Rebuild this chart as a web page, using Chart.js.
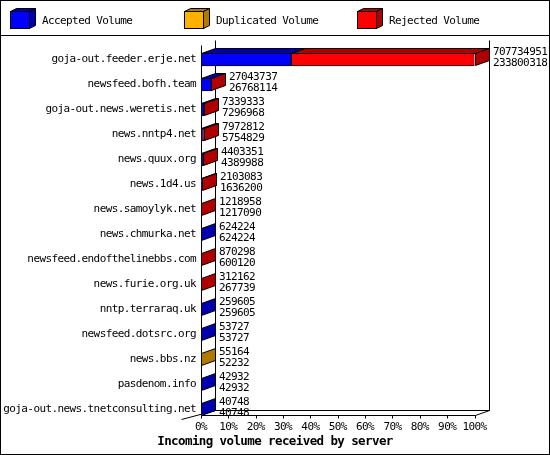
<!DOCTYPE html>
<html>
<head>
<meta charset="utf-8">
<script src="https://cdn.jsdelivr.net/npm/chart.js@4.4.1/dist/chart.umd.min.js"></script>
<style>
  html, body { margin: 0; padding: 0; background: #fff; }
  canvas { display: block; }
</style>
</head>
<body>
<canvas id="chart" width="550" height="455"></canvas>
<script>
// Values (bytes)
const hosts = [
  'goja-out.feeder.erje.net', 'newsfeed.bofh.team', 'goja-out.news.weretis.net',
  'news.nntp4.net', 'news.quux.org', 'news.1d4.us', 'news.samoylyk.net',
  'news.chmurka.net', 'newsfeed.endofthelinebbs.com', 'news.furie.org.uk',
  'nntp.terraraq.uk', 'newsfeed.dotsrc.org', 'news.bbs.nz', 'pasdenom.info',
  'goja-out.news.tnetconsulting.net'
];
const offered = [707734951, 27043737, 7339333, 7972812, 4403351, 2103083, 1218958,
  624224, 870298, 312162, 259605, 53727, 55164, 42932, 40748];
const accepted = [233800318, 26768114, 7296968, 5754829, 4389988, 1636200, 1217090,
  624224, 600120, 267739, 259605, 53727, 52232, 42932, 40748];
const duplicated = [0, 0, 0, 0, 0, 0, 0, 0, 0, 0, 0, 0, 2932, 0, 0];
const rejected = [473934633, 275623, 42365, 2217983, 13363, 466883, 1868,
  0, 270178, 44423, 0, 0, 0, 0, 0];

const seriesNames = ['Accepted Volume', 'Duplicated Volume', 'Rejected Volume'];
const frontColors = ['#0000ff', '#ffb000', '#ff0000'];
const sideColors = ['#0000b0', '#b07900', '#b00000'];
const chartTitle = 'Incoming volume received by server';

const MONO = '"DejaVu Sans Mono", monospace';
const FONT_SIZE = 11;
const SQUEEZE = '-0.6px';       // 11px mono squeezed to a 6px cell like the gd font
const DX = 14, DY = 5;          // depth of the 3d bars
const maxTotal = Math.max(...offered);
const px = v => Math.round(v) + 0.5;

const poly = (ctx, pts, fill) => {
  ctx.beginPath();
  pts.forEach(([x, y], i) => i ? ctx.lineTo(x, y) : ctx.moveTo(x, y));
  ctx.closePath();
  if (fill) { ctx.fillStyle = fill; ctx.fill(); }
  ctx.stroke();
};

const line = (ctx, x1, y1, x2, y2) => {
  ctx.beginPath(); ctx.moveTo(x1, y1); ctx.lineTo(x2, y2); ctx.stroke();
};

const threeD = {
  id: 'threeD',
  beforeDraw(chart) {
    const { ctx, width, height } = chart;
    ctx.fillStyle = '#fff';
    ctx.fillRect(0, 0, width, height);
    ctx.letterSpacing = SQUEEZE;
  },
  // back walls, floor and ticks
  beforeDatasetsDraw(chart) {
    const { ctx, chartArea, scales: { x } } = chart;
    const meta = chart.getDatasetMeta(0);
    const x0 = px(x.getPixelForValue(0)), x1 = px(x.getPixelForValue(maxTotal));
    const last = meta.data[hosts.length - 1];
    const yF = px(last.y + last.height / 2 - 1);
    const yT = px(chartArea.top - 2);
    ctx.save();
    ctx.strokeStyle = '#000';
    ctx.lineWidth = 1;
    line(ctx, x0, yT, x0, yF);
    line(ctx, x0 + DX, yT - DY, x0 + DX, yF - DY);
    line(ctx, x1 + DX, yT - DY, x1 + DX, yF - DY);
    line(ctx, x0 + DX, yF - DY, x1 + DX, yF - DY);
    line(ctx, x0, yF, x1, yF);
    line(ctx, x1, yF, x1 + DX, yF - DY);
    line(ctx, x0 - 20, yF + 4, x0 + DX, yF - DY);
    x.ticks.forEach(t => {
      const tx = px(x.getPixelForValue(t.value));
      line(ctx, tx, yF, tx, yF + 3);
    });
    ctx.restore();
  },
  // top and end faces of the bars plus the value labels
  afterDatasetsDraw(chart) {
    const { ctx } = chart;
    const metas = seriesNames.map((_, d) => chart.getDatasetMeta(d));
    ctx.save();
    ctx.strokeStyle = '#000';
    ctx.lineWidth = 1;
    hosts.forEach((h, i) => {
      let end = null, endColor = sideColors[0], top = 0, bottom = 0, cy = 0;
      metas.forEach((m, d) => {
        const el = m.data[i];
        const l = Math.min(el.base, el.x), r = Math.max(el.base, el.x);
        top = el.y - el.height / 2; bottom = el.y + el.height / 2 - 1; cy = el.y;
        if (chart.data.datasets[d].data[i] > 0) {
          if (r - l > 0.5) {
            poly(ctx, [[px(l), px(top)], [px(r), px(top)], [px(r) + DX, px(top) - DY], [px(l) + DX, px(top) - DY]], sideColors[d]);
          }
          end = r; endColor = sideColors[d];
        }
      });
      if (end === null) return;
      poly(ctx, [[px(end), px(top)], [px(end) + DX, px(top) - DY], [px(end) + DX, px(bottom) - DY], [px(end), px(bottom)]], endColor);
      ctx.fillStyle = '#000';
      ctx.font = FONT_SIZE + 'px ' + MONO;
      ctx.letterSpacing = SQUEEZE;
      ctx.textAlign = 'left';
      ctx.textBaseline = 'alphabetic';
      const tx = Math.round(end) + DX + 4;
      ctx.fillText(String(offered[i]), tx, Math.round(cy - 5));
      ctx.fillText(String(accepted[i]), tx, Math.round(cy + 6));
    });
    ctx.restore();
  },
  // legend row with little cubes and the outer frame
  afterDraw(chart) {
    const { ctx, width, height } = chart;
    ctx.save();
    ctx.strokeStyle = '#000';
    ctx.lineWidth = 1;
    seriesNames.forEach((name, d) => {
      const bx = 10 + Math.round(d * 173.6), by = 11, bw = 19, bh = 17;
      poly(ctx, [[bx + 0.5, by + 0.5], [bx + 0.5 + 6, by + 0.5 - 3], [bx + bw + 0.5 + 6, by + 0.5 - 3], [bx + bw + 0.5, by + 0.5]], sideColors[d]);
      poly(ctx, [[bx + bw + 0.5, by + 0.5], [bx + bw + 0.5 + 6, by + 0.5 - 3], [bx + bw + 0.5 + 6, by + bh + 0.5 - 3], [bx + bw + 0.5, by + bh + 0.5]], sideColors[d]);
      ctx.fillStyle = frontColors[d];
      ctx.fillRect(bx + 0.5, by + 0.5, bw, bh);
      ctx.strokeRect(bx + 0.5, by + 0.5, bw, bh);
      ctx.fillStyle = '#000';
      ctx.font = FONT_SIZE + 'px ' + MONO;
      ctx.letterSpacing = SQUEEZE;
      ctx.textBaseline = 'alphabetic';
      ctx.fillText(name, bx + 32, 24);
    });
    line(ctx, 0, 35.5, width, 35.5);
    ctx.strokeRect(0.5, 0.5, width - 1, height - 1);
    ctx.restore();
    ctx.letterSpacing = '0px';
  }
};

const datasets = [accepted, duplicated, rejected].map((vals, d) => ({
  label: seriesNames[d],
  data: vals,
  backgroundColor: frontColors[d],
  borderColor: '#000',
  borderWidth: 1,
  borderSkipped: false,
  barThickness: 13
}));

new Chart(document.getElementById('chart'), {
  type: 'bar',
  data: { labels: hosts, datasets },
  options: {
    indexAxis: 'y',
    responsive: false,
    animation: false,
    devicePixelRatio: 1,
    layout: { padding: { top: 47, right: 0, left: 0, bottom: 0 } },
    plugins: {
      legend: { display: false },
      tooltip: { enabled: false },
      title: {
        display: true,
        position: 'bottom',
        text: chartTitle,
        color: '#000',
        font: { family: MONO, size: 12.5, weight: 'bold', lineHeight: 1.1 },
        padding: { top: 0, bottom: 6 }
      }
    },
    scales: {
      x: {
        stacked: true,
        min: 0,
        max: maxTotal,
        grid: { display: false, drawTicks: false },
        border: { display: false },
        ticks: {
          count: 11,
          padding: -2,
          maxRotation: 0,
          autoSkip: false,
          color: '#000',
          font: { family: MONO, size: FONT_SIZE },
          callback: v => Math.round(v / maxTotal * 100) + '%'
        },
        afterFit: s => { s.height = 13.2; }
      },
      y: {
        stacked: true,
        grid: { display: false, drawTicks: false },
        border: { display: false },
        ticks: {
          padding: 5,
          autoSkip: false,
          color: '#000',
          font: { family: MONO, size: FONT_SIZE }
        },
        afterFit: s => { s.width = 201; }
      },
      // empty right gutter that holds the 3d depth and the value labels
      y2: {
        position: 'right',
        grid: { display: false, drawTicks: false },
        border: { display: false },
        ticks: { display: false },
        afterFit: s => { s.width = 75.5; }
      }
    }
  },
  plugins: [threeD]
});
</script>
</body>
</html>
